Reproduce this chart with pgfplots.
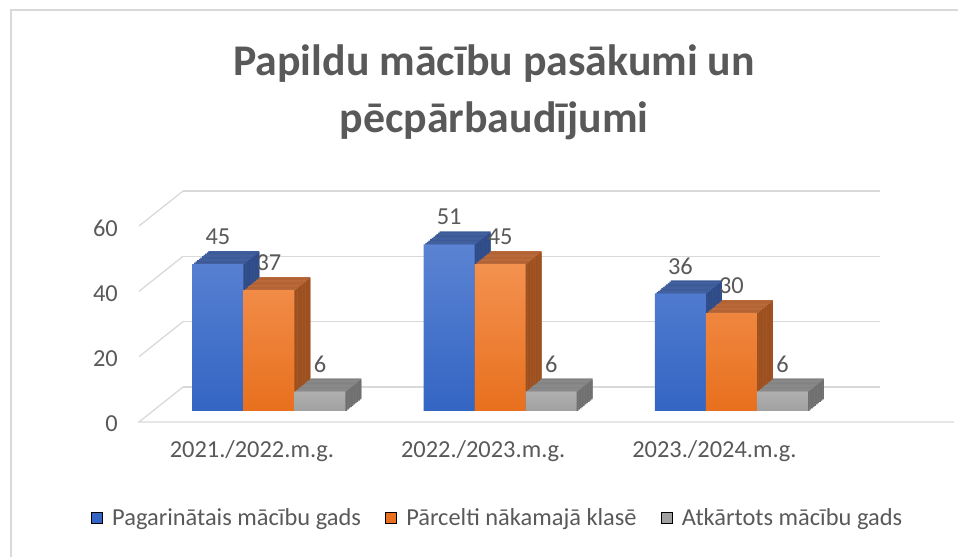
\documentclass[border=0pt]{standalone}
\usepackage{pgfplots}
\pgfplotsset{compat=1.18}
\usepackage{pgfplotstable}
\usepackage{fontspec}
\setmainfont{Carlito}

\definecolor{txt}{HTML}{595959}
\definecolor{gridc}{HTML}{D9D9D9}
\definecolor{bluetop}{HTML}{5B83D3}
\definecolor{bluebot}{HTML}{3365C3}
\definecolor{bluelid}{HTML}{42609E}
\definecolor{blueside}{HTML}{2F4C89}
\definecolor{ortop}{HTML}{F3914F}
\definecolor{orbot}{HTML}{E8701E}
\definecolor{orlid}{HTML}{B9693B}
\definecolor{orside}{HTML}{9C5020}
\definecolor{grtop}{HTML}{B0B0B0}
\definecolor{grbot}{HTML}{A0A0A0}
\definecolor{grlid}{HTML}{8A8A8A}
\definecolor{grside}{HTML}{707070}

\pgfplotstableread{
x y
0 45
1 51
2 36
}\dataA
\pgfplotstableread{
x y
0 37
1 45
2 30
}\dataB
\pgfplotstableread{
x y
0 6
1 6
2 6
}\dataC

\pgfplotsset{bar3d/.style={ybar, bar width=51bp, draw=none, forget plot}}

% #1 data, #2 bar shift, #3 lid colour, #4 side colour, #5 top colour, #6 bottom colour
\newcommand\barseries[6]{%
  \pgfplotsinvokeforeach{10,9,...,1}{%
    \addplot[bar3d, bar shift=#2, fill=#3, xshift={(-32+1.6*##1)*1bp}, yshift={(-24+1.3*##1)*1bp}] table {#1};
    \addplot[bar3d, bar shift=#2, fill=#4, xshift={(-32+1.6*##1)*1bp}, yshift={(-25.3+1.3*##1)*1bp}] table {#1};
  }%
  \addplot[bar3d, bar shift=#2, top color=#5, bottom color=#6, xshift=-32bp, yshift=-24bp] table {#1};
}

\begin{document}
\begin{tikzpicture}
\useasboundingbox (0,0) rectangle (958bp,557bp);
\draw[color=gridc, line width=2bp] (11bp,0) -- (11bp,547bp) -- (958bp,547bp);
\begin{axis}[
  at={(183bp,170bp)}, anchor=south west,
  scale only axis, width=697bp, height=196bp,
  xmin=-0.51, xmax=2.504, ymin=0, ymax=60,
  clip=false,
  axis line style={draw=none}, tick style={draw=none},
  ytick={0,20,40,60}, xtick={0,1,2},
  xticklabels={2021./2022.m.g., 2022./2023.m.g., 2023./2024.m.g.},
  ymajorgrids, grid style={color=gridc, line width=1.3bp},
  /pgf/number format/assume math mode=true,
  tick label style={font=\fontsize{24.5}{29}\selectfont, text=txt},
  yticklabel style={anchor=east, inner sep=0pt, xshift=-65bp, yshift=-37bp},
  xticklabel style={anchor=center, inner sep=0pt, xshift=-49bp, yshift=-64bp},
  legend style={draw=none, fill=none, at={(axis description cs:0.4512,-0.668)}, anchor=center,
    font=\fontsize{24.5}{29}\selectfont, text=txt,
    /tikz/every odd column/.append style={column sep=8bp},
    /tikz/every even column/.append style={column sep=22bp}},
  legend columns=3, legend cell align=left,
  legend image code/.code={\fill[#1] (0bp,-5.5bp) rectangle (11bp,5.5bp);},
]
% left wall and floor
\draw[color=gridc, line width=1.3bp] (rel axis cs:0,0) -- ++(-44bp,-35bp) -- ++(697bp,0);
\draw[color=gridc, line width=1.3bp] (rel axis cs:0,0.33333) -- ++(-44bp,-35bp);
\draw[color=gridc, line width=1.3bp] (rel axis cs:0,0.66667) -- ++(-44bp,-35bp);
\draw[color=gridc, line width=1.3bp] (rel axis cs:0,1) -- ++(-44bp,-35bp);

\barseries{\dataA}{-51bp}{bluelid}{blueside}{bluetop}{bluebot}
\barseries{\dataB}{0bp}{orlid}{orside}{ortop}{orbot}
\barseries{\dataC}{51bp}{grlid}{grside}{grtop}{grbot}

% data labels
\pgfplotsset{lbl/.style={ybar, bar width=51bp, draw=none, fill=none, forget plot,
  nodes near coords, every node near coord/.append style={anchor=center, xshift=#1, yshift=3.5bp,
  font=\fontsize{24.5}{29}\selectfont, text=txt}}}
\addplot[lbl=-83bp, bar shift=-51bp] table {\dataA};
\addplot[lbl=-32bp, bar shift=0bp] table {\dataB};
\addplot[lbl=19bp, bar shift=51bp] table {\dataC};

\addlegendimage{fill=bluebot}
\addlegendentry{Pagarinātais mācību gads}
\addlegendimage{fill=orbot}
\addlegendentry{Pārcelti nākamajā klasē}
\addlegendimage{fill=grbot}
\addlegendentry{Atkārtots mācību gads}
\end{axis}
\node[font=\bfseries\fontsize{44}{53}\selectfont, text=txt, anchor=base] at (494bp,481bp) {Papildu mācību pasākumi un};
\node[font=\bfseries\fontsize{44}{53}\selectfont, text=txt, anchor=base] at (494bp,424bp) {pēcpārbaudījumi};
\end{tikzpicture}
\end{document}
